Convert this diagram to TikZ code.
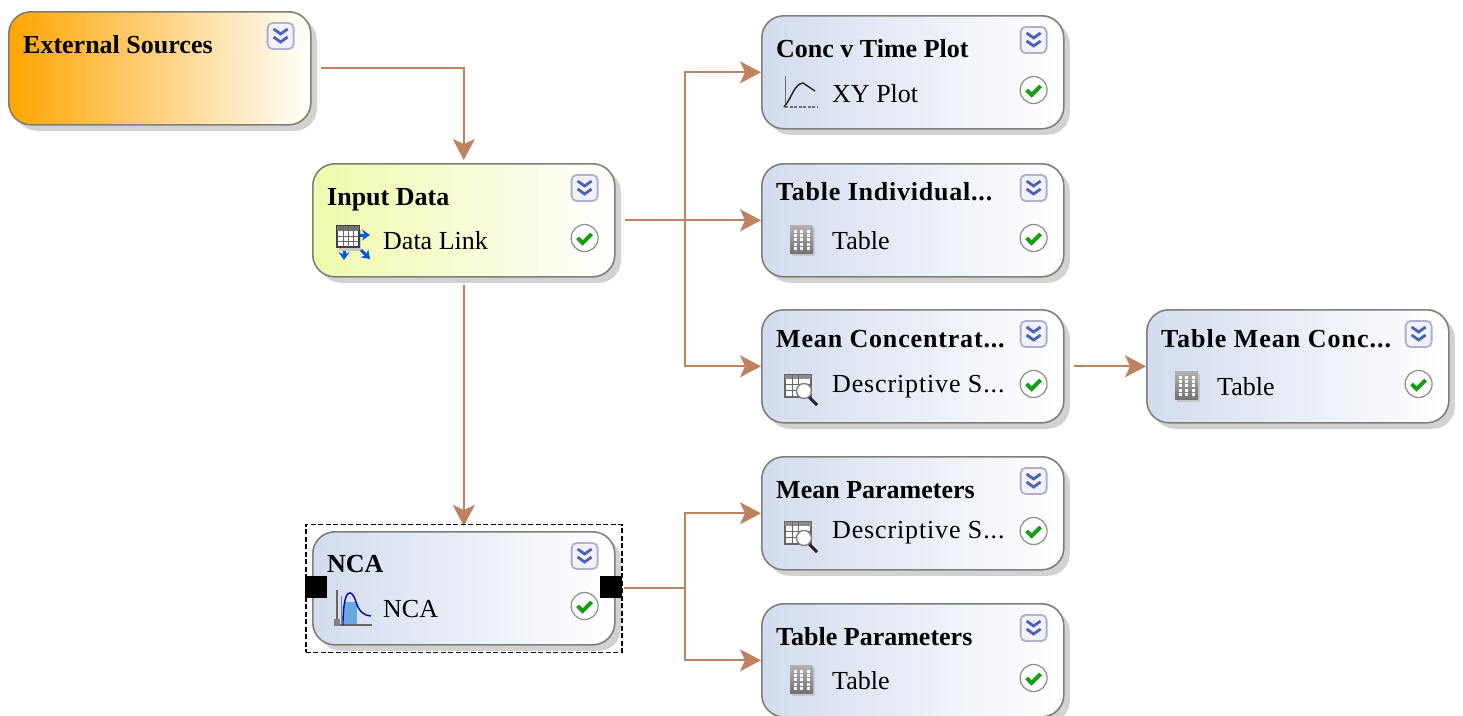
\documentclass[tikz,border=0pt]{standalone}
\usepackage{fontspec}
\setmainfont{Liberation Serif}
\usetikzlibrary{arrows.meta}
\usetikzlibrary{shadows}
\usetikzlibrary{calc}
\definecolor{linkbrown}{HTML}{BD8360}
\definecolor{framegray}{HTML}{7F7F78}
\definecolor{boxblue}{HTML}{D3DCEE}
\definecolor{boxmid}{HTML}{E6EBF6}
\definecolor{boxyellow}{HTML}{EFF9AC}
\definecolor{yellowmid}{HTML}{F9FED2}
\definecolor{boxorange}{HTML}{FFA500}
\definecolor{orangemid}{HTML}{FFD690}
\definecolor{btnblue}{HTML}{4A62B4}
\definecolor{okgreen}{HTML}{12A012}
\newcommand*{\Spaced}[2]{{\addfontfeature{LetterSpace=#1}#2}}
\tikzset{
	block/.style={rectangle, rounded corners=22pt, draw=framegray, line width=1.6pt, minimum width=302pt, minimum height=113pt, drop shadow={shadow xshift=6pt, shadow yshift=-6pt, fill=black!22, opacity=0.8}},
	blueblock/.style={block, left color=boxblue, middle color=boxmid, right color=white},
	yellowblock/.style={block, left color=boxyellow, middle color=yellowmid, right color=white},
	orangeblock/.style={block, left color=boxorange, middle color=orangemid, right color=white},
	title/.style={font=\fontsize{26}{28}\selectfont\bfseries, anchor=base west, inner sep=0pt},
	label/.style={font=\fontsize{26}{28}\selectfont, anchor=base west, inner sep=0pt},
	link/.style={draw=linkbrown, line width=1.8pt, -{Stealth[length=21pt,width=22pt,inset=5pt]}},
	handle/.style={fill=black, minimum width=22pt, minimum height=22pt, inner sep=0pt},
	expandbtn/.pic={
		\draw[draw=blue!25!gray!50, fill=blue!5, line width=1.8pt, rounded corners=5pt] (-13,-13) rectangle (13,13);
		\draw[btnblue, line width=2.8pt] (-7,-7) -- (0,-2) -- (7,-7) (-7,1) -- (0,6) -- (7,1);
	},
	okmark/.pic={
		\draw[draw=black!45, fill=white, line width=1.2pt] (0,0) circle (13.5);
		\draw[okgreen, line width=3.8pt] (-7,0) -- (-2,5) -- (7,-4);
	},
	gridicon/.pic={
		\fill[black!22] (-8,-12) rectangle (15,16);
		\shade[top color=black!30, bottom color=black!55] (-10,-15) rectangle (13,13);
		\foreach \x in {-5,1.5,8} {\draw[white, line width=3pt, dash pattern=on 3pt off 1.2pt] (\x,-10) -- (\x,11);}
	},
	statsicon/.pic={
		\draw[black!60, fill=white, line width=1.4pt] (-15,-11) rectangle (11,11);
		\fill[black!45] (-15,-11) rectangle (11,-7);
		\foreach \x in {-8,-2} {\draw[black!60] (\x,-11) -- (\x,11);}
		\foreach \y in {-2,4} {\draw[black!60] (-15,\y) -- (11,\y);}
		\draw[black!85, line width=3pt] (8,10) -- (17,19);
		\draw[black!50, fill=white, line width=1.4pt] (4,5) circle (7.5);
	},
	ploticon/.pic={
		\draw[black!55, line width=1pt] (-15,-16) -- (-15,15);
		\draw[black!55, line width=1.2pt, dash pattern=on 3pt off 1.5pt] (-15,15) -- (17,15);
		\draw[black!85, line width=1.5pt] (-16,15) .. controls (-8,6) and (-6,-8) .. (3,-9) -- (15,-1);
	},
	linkicon/.pic={
		\fill[black!22] (-12,-10) rectangle (10,11);
		\draw[black!75, fill=white, line width=1.4pt] (-14,-14) rectangle (8,7);
		\fill[black!55] (-14,-14) rectangle (8,-9);
		\foreach \x in {-8,-3,2} {\draw[black!60] (\x,-14) -- (\x,7);}
		\foreach \y in {-4,1} {\draw[black!60] (-14,\y) -- (8,\y);}
		\draw[-{Stealth[length=8pt,width=11pt]}, blue!60!cyan!85!black, line width=3pt] (9,-5) -- (19,-5);
		\draw[-{Stealth[length=8pt,width=11pt]}, blue!60!cyan!85!black, line width=3pt] (-7,11) -- (-7,20);
		\draw[-{Stealth[length=8pt,width=11pt]}, blue!60!cyan!85!black, line width=3pt] (10,10) -- (19,19);
	},
	ncaicon/.pic={
		\fill[cyan!65!blue!60] (-7,-6) rectangle (6,17);
		\draw[black!60, line width=1.4pt] (-14,-18) -- (-14,17) -- (21,17);
		\draw[black!50, line width=1pt] (-10,-12) -- (-10,17);
		\draw[blue!70!black, line width=1.4pt] (-8,17) .. controls (-8,-22) and (1,-20) .. (5,-6) .. controls (8,4) and (14,8) .. (20,8);
		\fill[black!50] (-17,11) rectangle (-11,18);
	}
}
% one block: name, x of left edge, y of top edge, style, title, title base
\newcommand*{\Block}[6]{
	\node[#4, anchor=north west] (#1) at (#2,#3) {};
	\node[title] (#1title) at ($(#1.north west)+(15,#6)$) {#5};
	\pic at ($(#1.north east)+(-31,25)$) {expandbtn};
}
% status row of a block: name, icon, label, label base
\newcommand*{\Status}[4]{
	\pic at ($(#1.north west)+(39,77)$) {#2};
	\node[label] (#1label) at ($(#1.north west)+(71,#4)$) {#3};
	\pic at ($(#1.north east)+(-31,75)$) {okmark};
}

\begin{document}
\begin{tikzpicture}[x=1pt,y=-1pt]
	\useasboundingbox (0,0) rectangle (1463,715);
	\clip (0,0) rectangle (1463,715);

	%Blocks
	\Block{external}{8}{11}{orangeblock}{External Sources}{42}
	\Block{input}{312}{163}{yellowblock}{Input Data}{42}
	\Status{input}{linkicon}{Data Link}{86}
	\Block{nca}{312}{531}{blueblock}{NCA}{41}
	\Status{nca}{ncaicon}{NCA}{86}
	\Block{concplot}{761}{15}{blueblock}{Conc v Time Plot}{42}
	\Status{concplot}{ploticon}{XY Plot}{87}
	\Block{tableind}{761}{163}{blueblock}{\Spaced{3}{Table Individual...}}{37}
	\Status{tableind}{gridicon}{Table}{86}
	\Block{meanconc}{761}{309}{blueblock}{\Spaced{3.2}{Mean Concentrat...}}{38}
	\Status{meanconc}{statsicon}{\Spaced{3.3}{Descriptive S...}}{83}
	\Block{tablemean}{1146}{309}{blueblock}{\Spaced{3.8}{Table Mean Conc...}}{38}
	\Status{tablemean}{gridicon}{Table}{86}
	\Block{meanparam}{761}{456}{blueblock}{Mean Parameters}{42}
	\Status{meanparam}{statsicon}{\Spaced{3.3}{Descriptive S...}}{82}
	\Block{tableparam}{761}{603}{blueblock}{Table Parameters}{42}
	\Status{tableparam}{gridicon}{Table}{86}

	%Connectors
	\coordinate (extout) at ($(external.east)+(9,0)$);
	\coordinate (inout) at ($(input.east)+(9,0)$);
	\coordinate (indown) at ($(input.south)+(0,7)$);
	\coordinate (ncaout) at ($(nca.east)+(8,0)$);
	\coordinate (meanout) at ($(meanconc.east)+(9,0)$);
	\coordinate (bus) at (685,0);
	\draw[link] (extout) -| ($(input.north)+(0,-3)$);
	\draw[link] (indown) -- ($(nca.north)+(0,-5)$);
	\draw[link] (inout) -- (tableind.west);
	\draw[link] (inout -| bus) |- (concplot.west);
	\draw[link] (inout -| bus) |- (meanconc.west);
	\draw[link] (meanout) -- (tablemean.west);
	\draw[link] (ncaout) -| (bus |- meanparam.west) -- (meanparam.west);
	\draw[link] (ncaout -| bus) |- (tableparam.west);

	%Selection
	\node[draw, dash pattern=on 5pt off 2.5pt, line width=1.4pt, minimum width=316pt, minimum height=128pt, inner sep=0pt] (ncaframe) at (nca) {};
	\node[handle] (handleleft) at ($(nca.west)+(4,-1)$) {};
	\node[handle] (handleright) at ($(nca.east)+(-5,-1)$) {};
\end{tikzpicture}
\end{document}
